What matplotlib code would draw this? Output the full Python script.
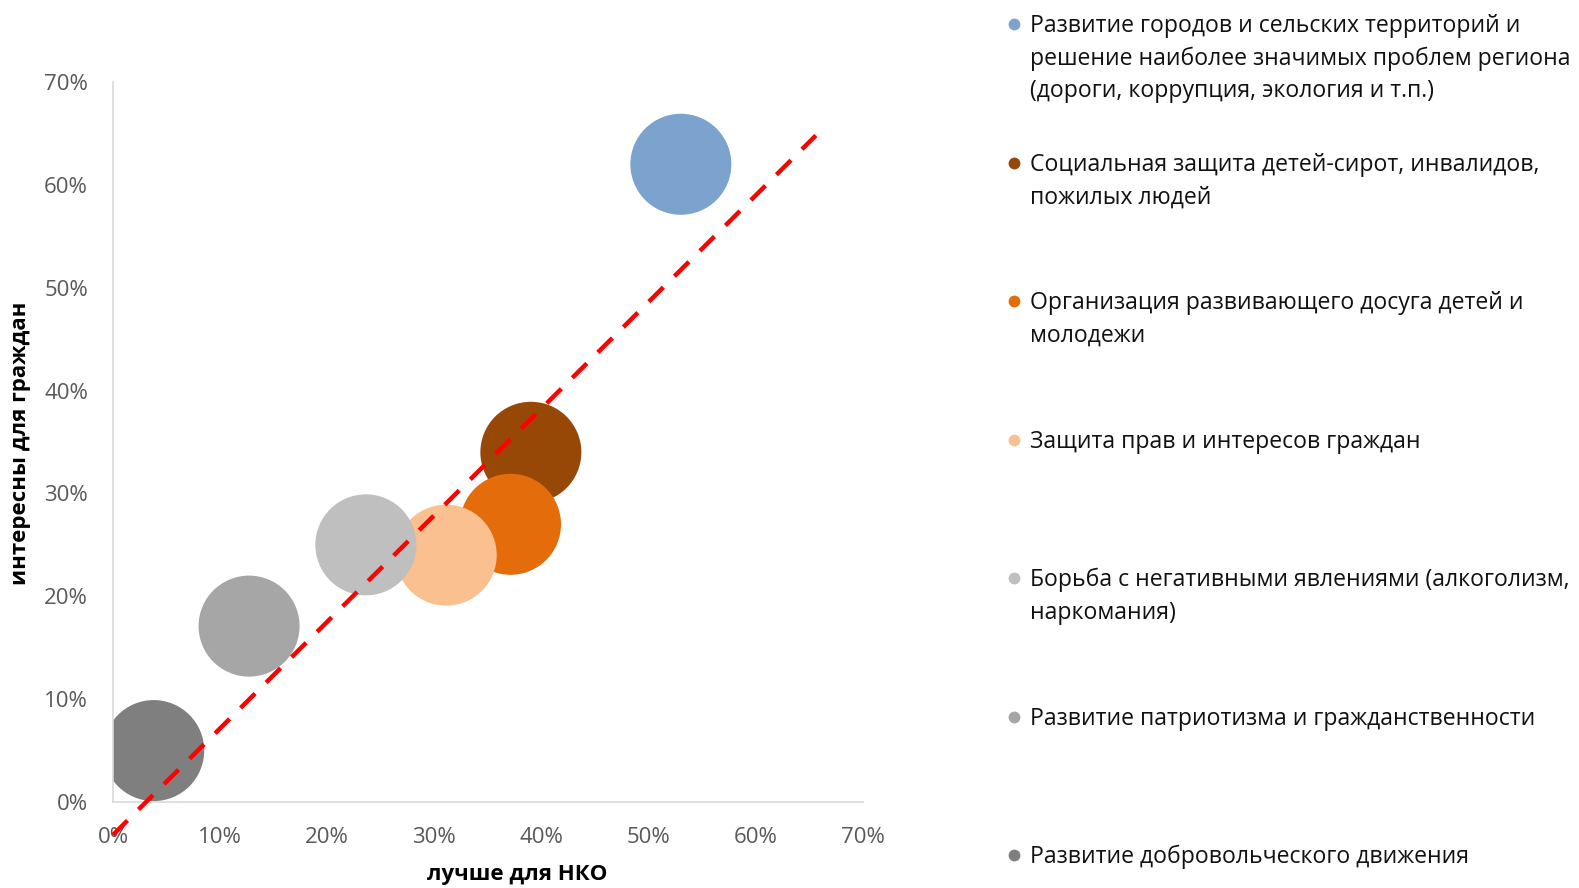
import matplotlib.pyplot as plt
from matplotlib.ticker import PercentFormatter, MultipleLocator

plt.rcParams['font.family'] = ['Open Sans', 'DejaVu Sans']

# данные пузырьков (в процентах)
labels = [
    'Развитие городов и сельских территорий и\nрешение наиболее значимых проблем региона\n(дороги, коррупция, экология и т.п.)',
    'Социальная защита детей-сирот, инвалидов,\nпожилых людей',
    'Организация развивающего досуга детей и\nмолодежи',
    'Защита прав и интересов граждан',
    'Борьба с негативными явлениями (алкоголизм,\nнаркомания)',
    'Развитие патриотизма и гражданственности',
    'Развитие добровольческого движения',
]
nko = [53.0, 39.0, 37.1, 31.1, 23.6, 12.7, 3.8]
citizens = [62.0, 34.0, 27.0, 24.0, 25.0, 17.1, 5.0]
colors = ['#7BA3CE', '#974706', '#E46C0A', '#FAC090', '#BFBFBF', '#A6A6A6', '#7F7F7F']

# пунктирная линия
line_x = [0.0, 65.6]
line_y = [-3.2, 64.8]

W, H = 1579, 888
fig = plt.figure(figsize=(W / 100, H / 100), dpi=100)
ax = fig.add_axes([113 / W, 1 - 802 / H, 750 / W, 720 / H])

for x, y, c in zip(nko, citizens, colors):
    ax.scatter(x, y, s=5290, color=c, edgecolors='none', zorder=2)

ax.plot(line_x, line_y, color='#FF0000', lw=3.2, linestyle=(0, (4.6, 3.5)),
        clip_on=False, zorder=3, solid_capstyle='butt', dash_capstyle='butt')

ax.set_xlim(0, 70)
ax.set_ylim(0, 70)
ax.xaxis.set_major_locator(MultipleLocator(10))
ax.yaxis.set_major_locator(MultipleLocator(10))
ax.xaxis.set_major_formatter(PercentFormatter(decimals=0))
ax.yaxis.set_major_formatter(PercentFormatter(decimals=0))
ax.tick_params(length=0, labelsize=16, labelcolor='#595959', pad=18)
for s in ['top', 'right']:
    ax.spines[s].set_visible(False)
for s in ['left', 'bottom']:
    ax.spines[s].set_color('#D9D9D9')
    ax.spines[s].set_linewidth(1.2)

fig.text(517 / W, 1 - 874 / H, 'лучше для НКО', ha='center', va='center',
         fontsize=16, fontweight='bold', color='#000000')
fig.text(21 / W, 1 - 443 / H, 'интересны для граждан', ha='center', va='center',
         rotation=90, fontsize=16, fontweight='bold', color='#000000')

# легенда справа
leg = fig.add_axes([0, 0, 1, 1], facecolor='none')
leg.set_xlim(0, W)
leg.set_ylim(H, 0)
leg.axis('off')
entry_y = [24, 163, 301, 440, 578, 717, 855]
for yy, lab, c in zip(entry_y, labels, colors):
    leg.plot(1014, yy, 'o', ms=8.5, color=c, mec='none')
    leg.text(1030, yy - 10, lab, ha='left', va='top', fontsize=16.6,
             color='#111111', linespacing=1.46)

fig.savefig('out.png', dpi=100)
